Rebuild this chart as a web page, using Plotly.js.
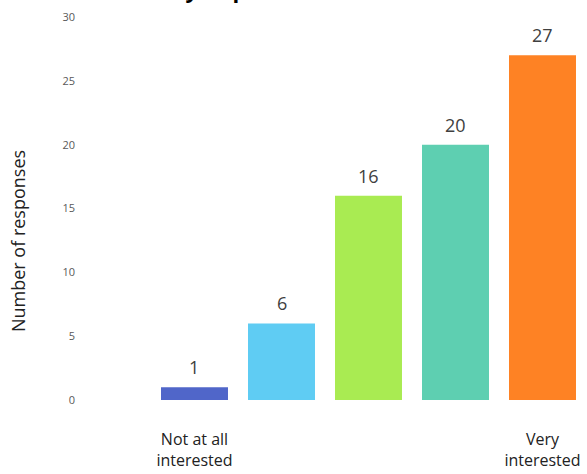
<!DOCTYPE html>
<html><head><meta charset="utf-8">
<script src="https://cdn.plot.ly/plotly-3.0.1.min.js"></script>
<style>html,body{margin:0;padding:0;background:#fff}#chart{width:587px;height:474px}</style>
</head><body><div id="chart"></div>
<script>
const categories = ['Not at all interested', 'Level 2', 'Level 3', 'Level 4', 'Very interested'];
const tickLabels = ['Not at all<br>interested', '', '', '', 'Very<br>interested'];
const responses = [1, 6, 16, 20, 27];
const barColors = ['#5066C9', '#5FCCF3', '#A9EB52', '#5ECFB1', '#FE8224'];
const yTicks = [0, 5, 10, 15, 20, 25, 30];
const chartTitle = 'Likely to protest the new law';

const trace = {
  type: 'bar', x: categories, y: responses,
  marker: {color: barColors},
  width: 0.77, hoverinfo: 'none'
};
const annotations = categories.map((c, i) => ({
  x: i, y: responses[i], xref: 'x', yref: 'y', text: String(responses[i]),
  showarrow: false, yanchor: 'bottom', yshift: 6,
  font: {family: 'Open Sans, sans-serif', size: 18, color: '#404040'}
}));
annotations.push({
  xref: 'paper', yref: 'paper', x: -0.1225, y: 0.415, xanchor: 'center', yanchor: 'middle',
  text: 'Number of responses', textangle: -90, showarrow: false,
  font: {family: 'Open Sans, sans-serif', size: 18, color: '#222'}
});
annotations.push({
  xref: 'paper', yref: 'paper', x: (293 - 80) / 506, y: 1.03, xanchor: 'center', yanchor: 'bottom',
  text: chartTitle, showarrow: false,
  font: {family: 'Open Sans, sans-serif', size: 22, color: '#000', weight: 'bold'}
});
const layout = {
  width: 587, height: 474,
  margin: {l: 80, r: 1, t: 17, b: 74},
  paper_bgcolor: '#fff', plot_bgcolor: '#fff',
  showlegend: false,
  xaxis: {type: 'category', range: [-1.316, 4.5], tickvals: categories, ticktext: tickLabels,
          showgrid: false, zeroline: false, showline: false, ticks: '', ticklabelstandoff: 28,
          tickfont: {family: 'Open Sans, sans-serif', size: 16, color: '#222'}},
  yaxis: {range: [0, 30], tickvals: yTicks, showgrid: false, zeroline: false, showline: false,
          ticks: '', ticklabelstandoff: 4,
          tickfont: {family: 'Open Sans, sans-serif', size: 11, color: '#595959'}},
  annotations: annotations
};
Plotly.newPlot('chart', [trace], layout, {displayModeBar: false, staticPlot: true});
</script></body></html>
